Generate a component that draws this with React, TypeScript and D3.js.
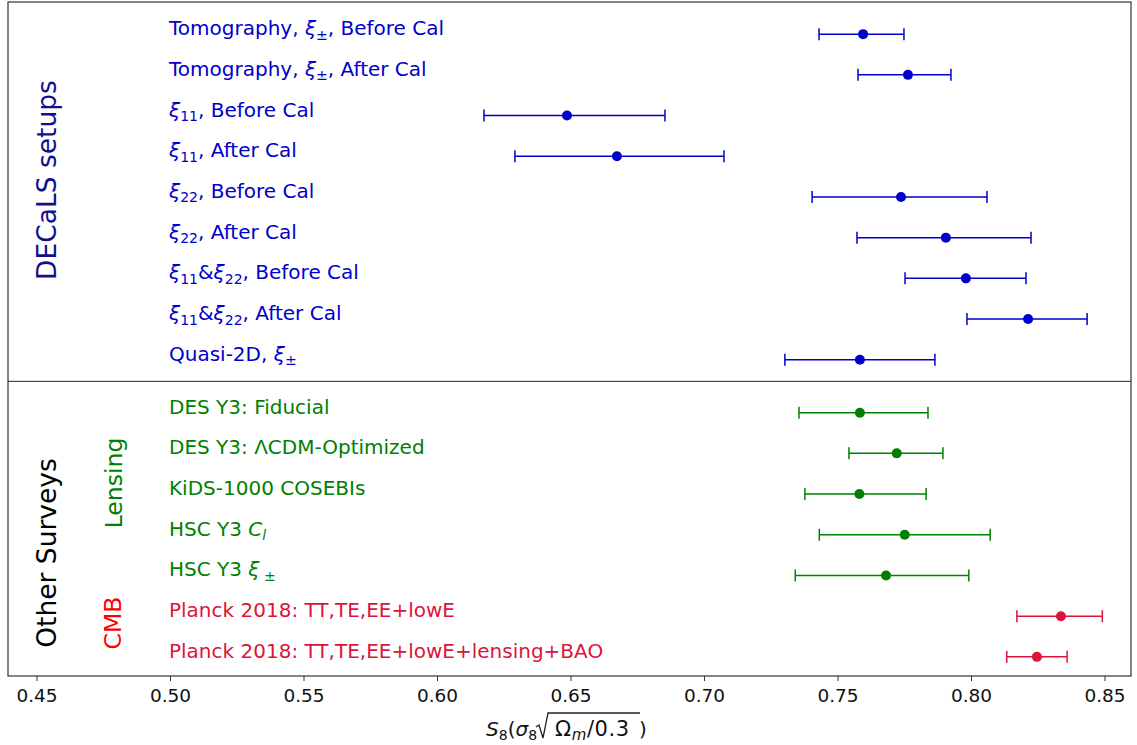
import React from "react";
import * as d3 from "d3";

// label pieces: [text, style] where style: "n" normal, "i" italic math, "s" subscript
type Seg = [string, string];

const labels: Seg[][] = [
  [["Tomography, ", "n"], ["ξ", "i"], ["±", "s"], [", Before Cal", "n"]],
  [["Tomography, ", "n"], ["ξ", "i"], ["±", "s"], [", After Cal", "n"]],
  [["ξ", "i"], ["11", "s"], [", Before Cal", "n"]],
  [["ξ", "i"], ["11", "s"], [", After Cal", "n"]],
  [["ξ", "i"], ["22", "s"], [", Before Cal", "n"]],
  [["ξ", "i"], ["22", "s"], [", After Cal", "n"]],
  [["ξ", "i"], ["11", "s"], ["&", "n"], ["ξ", "i"], ["22", "s"], [", Before Cal", "n"]],
  [["ξ", "i"], ["11", "s"], ["&", "n"], ["ξ", "i"], ["22", "s"], [", After Cal", "n"]],
  [["Quasi-2D, ", "n"], ["ξ", "i"], ["±", "s"]],
  [["DES Y3: Fiducial", "n"]],
  [["DES Y3: ΛCDM-Optimized", "n"]],
  [["KiDS-1000 COSEBIs", "n"]],
  [["HSC Y3 ", "n"], ["C", "i"], ["l", "si"]],
  [["HSC Y3 ", "n"], ["ξ", "i"], [" ±", "s"]],
  [["Planck 2018: TT,TE,EE+lowE", "n"]],
  [["Planck 2018: TT,TE,EE+lowE+lensing+BAO", "n"]],
];

const centers = [
  0.7594, 0.7762, 0.6485, 0.6672, 0.7736, 0.7904, 0.7979, 0.8212, 0.7582,
  0.7582, 0.772, 0.758, 0.775, 0.768, 0.8335, 0.8245,
];
const lows = [
  0.7429, 0.7575, 0.6174, 0.629, 0.7403, 0.7571, 0.7751, 0.7983, 0.7301,
  0.7354, 0.7541, 0.7376, 0.743, 0.734, 0.817, 0.8132,
];
const highs = [
  0.7747, 0.7923, 0.6852, 0.7073, 0.8058, 0.8223, 0.8204, 0.8433, 0.7863,
  0.7837, 0.7893, 0.783, 0.807, 0.799, 0.849, 0.8358,
];
const groups = [
  "decals", "decals", "decals", "decals", "decals", "decals", "decals", "decals", "decals",
  "lensing", "lensing", "lensing", "lensing", "lensing", "cmb", "cmb",
];
const ticks = [0.45, 0.5, 0.55, 0.6, 0.65, 0.7, 0.75, 0.8, 0.85];

const colorOf: Record<string, string> = {
  decals: "#0000cd",
  lensing: "#008000",
  cmb: "#dc143c",
};

const W = 1137;
const H = 745;
const left = 8;
const right = 1131;
const top = 2;
const bottom = 676;

const FONT = "DejaVu Sans, sans-serif";

const slot = (i: number) => (i < 9 ? i : i + 0.3);

const App = () => {
  const x = d3.scaleLinear().domain([0.45, 0.85]).range([37, 1105]);
  const y = d3.scaleLinear().domain([-0.79, 15.77]).range([top, bottom]);
  const sep = y(8.53);

  // subscripts drop the baseline; the next normal piece brings it back
  const renderLabel = (segs: Seg[]) => {
    let shifted = false;
    return segs.map(([t, s], k) => {
      if (s === "s" || s === "si") {
        const dy = shifted ? 0 : 4.5;
        shifted = true;
        return (
          <tspan key={k} fontSize={14} dy={dy} fontStyle={s === "si" ? "italic" : "normal"}>
            {t}
          </tspan>
        );
      }
      const dy = shifted ? -4.5 : 0;
      shifted = false;
      return (
        <tspan key={k} dy={dy} fontStyle={s === "i" ? "italic" : "normal"}>
          {t}
        </tspan>
      );
    });
  };

  return (
    <svg
      width={W}
      height={H}
      style={{ position: "absolute", left: 0, top: 0, fontFamily: FONT }}
    >
      <rect x={0} y={0} width={W} height={H} fill="white" />

      {/* rows */}
      {centers.map((c, i) => {
        const yy = y(slot(i));
        const col = colorOf[groups[i]];
        return (
          <g key={i}>
            <text x={x(0.5) - 1.5} y={yy + 1} fontSize={20} fill={col}>
              {renderLabel(labels[i])}
            </text>
            <line x1={x(lows[i])} x2={x(highs[i])} y1={yy} y2={yy} stroke={col} strokeWidth={1.5} />
            <line x1={x(lows[i])} x2={x(lows[i])} y1={yy - 6} y2={yy + 6} stroke={col} strokeWidth={1.5} />
            <line x1={x(highs[i])} x2={x(highs[i])} y1={yy - 6} y2={yy + 6} stroke={col} strokeWidth={1.5} />
            <circle cx={x(c)} cy={yy} r={5} fill={col} />
          </g>
        );
      })}

      {/* group labels */}
      <text transform="translate(56,180) rotate(-90)" textAnchor="middle" fontSize={26.5} fill="#10108c">
        DECaLS setups
      </text>
      <text transform="translate(56,553) rotate(-90)" textAnchor="middle" fontSize={26.5} fill="black">
        Other Surveys
      </text>
      <text transform="translate(122,483) rotate(-90)" textAnchor="middle" fontSize={23.5} fill="#008000">
        Lensing
      </text>
      <text transform="translate(121,623) rotate(-90)" textAnchor="middle" fontSize={23.5} fill="red">
        CMB
      </text>

      {/* frame */}
      <line x1={left} x2={right} y1={sep} y2={sep} stroke="#222" strokeWidth={1} />
      <rect
        x={left}
        y={top}
        width={right - left}
        height={bottom - top}
        fill="none"
        stroke="#333"
        strokeWidth={1.2}
      />

      {/* x axis */}
      {ticks.map((t) => (
        <g key={t}>
          <line x1={x(t)} x2={x(t)} y1={bottom} y2={bottom + 5} stroke="#333" strokeWidth={1} />
          <text x={x(t)} y={bottom + 26} textAnchor="middle" fontSize={18.5} fill="#111">
            {d3.format(".2f")(t)}
          </text>
        </g>
      ))}

      {/* x label */}
      <g fontSize={20} fill="#111">
        <text x={486} y={736}>
          <tspan fontStyle="italic">S</tspan>
          <tspan fontSize={14} dy={4}>8</tspan>
          <tspan dy={-4}>(</tspan>
          <tspan fontStyle="italic">σ</tspan>
          <tspan fontSize={14} dy={4}>8</tspan>
        </text>
        <path
          d="M536,727 L539,725 L543,738 L548,713 L640,713"
          fill="none"
          stroke="#222"
          strokeWidth={1.3}
        />
        <text x={555} y={736} fontSize={21} letterSpacing={0.6}>
          <tspan>Ω</tspan>
          <tspan fontSize={15} dy={4} fontStyle="italic">m</tspan>
          <tspan dy={-4}>/0.3</tspan>
        </text>
        <text x={639} y={736}>)</text>
      </g>
    </svg>
  );
};

export default App;
